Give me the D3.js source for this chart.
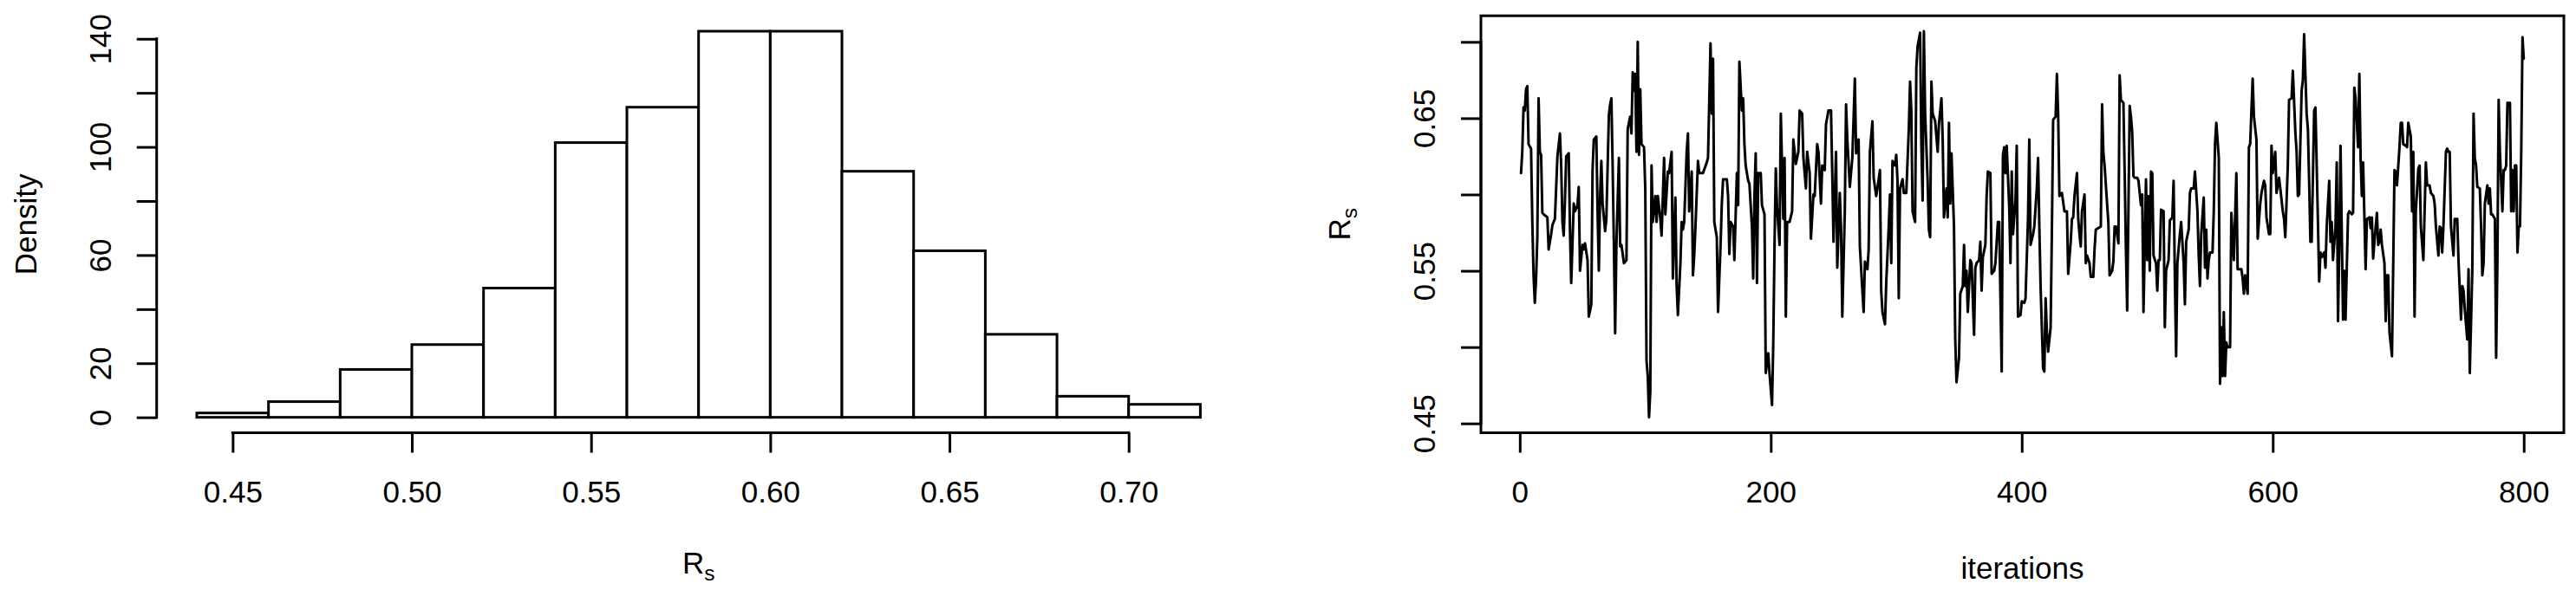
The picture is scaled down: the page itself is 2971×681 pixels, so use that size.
<!DOCTYPE html>
<html><head><meta charset="utf-8">
<script src="https://cdnjs.cloudflare.com/ajax/libs/d3/7.8.5/d3.min.js"></script>
<style>
html,body{margin:0;padding:0;background:#fff;}
svg{display:block;}
text{font-family:"Liberation Sans", Arial, Helvetica, sans-serif; fill:#000;}
</style>
</head><body>
<svg id="c" width="2971" height="681"></svg>
<script>
// ---------------- DATA ----------------
const binEdges = [0.44,0.46,0.48,0.50,0.52,0.54,0.56,0.58,0.60,0.62,0.64,0.66,0.68,0.70,0.72];
const densities = [1.6,5.8,17.7,26.9,47.8,101.6,114.7,142.8,142.8,91.0,61.6,30.7,7.8,4.8];
const histXTicks = [0.45,0.50,0.55,0.60,0.65,0.70];
const histXTickLabels = ["0.45","0.50","0.55","0.60","0.65","0.70"];
const histYTicks = [0,20,40,60,80,100,120,140];
const histYTickLabels = ["0","20","","60","","100","","140"];

const traceIter = [
1,2,3,4,5,6,7,9,10,11,12,13,14,15,16,17,18,19,22,23,25,26,28,30,32,33,34,35,36,37,
39,40,41,43,44,46,47,48,50,51,52,54,55,57,58,59,61,62,63,64,65,66,68,69,71,72,73,74,75,76,
77,79,80,81,83,85,86,88,89,90,91,92,93,94,95,96,97,99,100,101,102,103,104,105,106,108,109,110,112,113,
115,116,118,119,121,122,123,124,125,126,128,129,130,131,133,134,135,137,138,139,140,142,143,146,149,150,152,153,154,155,
157,158,160,161,162,165,166,167,168,170,171,173,174,175,177,178,179,180,182,183,185,186,187,188,189,190,192,193,195,196,
198,199,201,202,203,204,205,207,208,210,211,212,213,215,217,218,220,222,223,225,226,228,229,231,232,234,235,237,238,240,
241,243,244,246,248,249,250,252,253,255,256,257,259,260,261,263,265,267,268,270,271,273,274,275,277,278,279,281,282,284,
285,287,288,289,291,292,294,295,296,297,299,300,301,302,303,305,306,308,310,311,312,313,315,316,317,319,320,321,322,323,
325,326,327,328,329,331,333,334,336,337,338,340,341,342,343,344,346,347,348,350,351,353,354,355,356,357,359,360,362,363,364,
366,367,368,369,371,372,373,375,376,378,379,381,382,384,385,386,387,388,390,391,392,393,395,396,397,399,400,402,403,405,
406,407,409,410,412,413,414,415,417,418,419,420,421,423,424,425,427,428,429,430,432,434,436,437,439,440,441,442,444,445,
446,447,448,450,451,452,454,455,457,458,459,461,463,464,465,466,468,469,470,472,473,474,475,477,478,479,481,482,483,484,
486,487,488,489,490,492,493,495,496,497,499,500,501,502,503,504,505,507,508,509,510,511,513,514,515,517,518,520,521,522,
523,524,526,527,529,530,531,533,534,535,537,538,540,541,542,543,545,546,547,548,549,550,552,553,554,555,557,558,559,560,
561,562,563,564,566,567,568,569,571,572,575,576,577,578,580,581,582,584,585,587,588,590,591,593,594,595,597,598,599,600,
602,603,605,606,608,609,610,612,613,615,616,618,619,620,621,623,624,625,627,628,629,630,631,633,634,636,637,638,639,641,
642,643,645,646,647,648,650,651,652,653,654,656,657,658,660,661,663,664,665,666,668,669,670,671,672,674,675,677,678,679,
680,681,683,684,685,686,687,689,690,691,692,693,695,696,697,698,699,701,702,703,704,706,707,708,710,711,712,713,714,716,
717,718,720,721,722,723,725,726,728,729,730,732,733,734,735,736,738,739,740,741,742,744,745,746,747,748,750,751,752,753,
755,756,757,759,760,761,762,763,765,766,767,768,769,771,772,773,774,775,777,778,779,780,781,783,784,785,786,787,789,790,
791,792,793,794,795,796,797,798,799,800
];
const traceRs = [
0.614,0.628,0.657,0.655,0.669,0.671,0.633,0.630,0.582,0.547,
0.529,0.545,0.572,0.663,0.628,0.626,0.588,0.587,0.585,0.564,
0.574,0.580,0.584,0.625,0.640,0.619,0.582,0.573,0.596,0.625,
0.627,0.577,0.542,0.594,0.589,0.593,0.605,0.550,0.567,0.564,
0.568,0.557,0.520,0.528,0.616,0.636,0.638,0.589,0.550,0.599,
0.622,0.594,0.576,0.584,0.652,0.659,0.663,0.619,0.567,0.509,
0.567,0.624,0.566,0.567,0.555,0.557,0.643,0.651,0.640,0.680,
0.668,0.679,0.628,0.700,0.626,0.669,0.633,0.631,0.604,0.491,
0.481,0.454,0.471,0.619,0.582,0.599,0.582,0.599,0.584,0.573,
0.624,0.587,0.615,0.614,0.628,0.545,0.572,0.598,0.540,0.521,
0.555,0.582,0.577,0.582,0.628,0.640,0.589,0.615,0.547,0.560,
0.579,0.622,0.614,0.614,0.621,0.624,0.699,0.653,0.689,0.582,
0.572,0.523,0.567,0.594,0.610,0.610,0.599,0.561,0.582,0.579,
0.557,0.614,0.593,0.687,0.655,0.663,0.633,0.619,0.609,0.607,
0.579,0.545,0.599,0.627,0.542,0.614,0.614,0.593,0.587,0.483,
0.496,0.483,0.462,0.503,0.567,0.617,0.592,0.567,0.653,0.584,
0.624,0.520,0.582,0.582,0.589,0.636,0.620,0.628,0.655,0.653,
0.624,0.604,0.628,0.614,0.571,0.600,0.599,0.633,0.628,0.594,
0.619,0.616,0.646,0.655,0.655,0.614,0.569,0.628,0.552,0.601,
0.578,0.520,0.589,0.659,0.636,0.605,0.624,0.676,0.627,0.636,
0.566,0.537,0.523,0.556,0.551,0.564,0.628,0.648,0.611,0.599,
0.604,0.616,0.537,0.523,0.515,0.542,0.579,0.600,0.555,0.622,
0.619,0.626,0.609,0.532,0.604,0.610,0.601,0.601,0.643,0.674,
0.655,0.589,0.582,0.683,0.697,0.706,0.633,0.596,0.707,0.653,
0.609,0.577,0.572,0.674,0.653,0.648,0.628,0.646,0.663,0.636,
0.585,0.604,0.585,0.647,0.594,0.627,0.579,0.505,0.477,0.493,
0.535,0.540,0.567,0.540,0.550,0.523,0.557,0.555,0.508,0.552,
0.555,
0.557,0.569,0.537,0.559,0.567,0.599,0.615,0.614,0.548,0.550,
0.555,0.582,0.582,0.484,0.626,0.631,0.614,0.632,0.592,0.555,
0.615,0.574,0.596,0.632,0.520,0.521,0.530,0.529,0.532,0.585,
0.636,0.567,0.574,0.579,0.604,0.624,0.579,0.540,0.486,0.484,
0.532,0.510,0.497,0.513,0.576,0.649,0.651,0.679,0.653,0.599,
0.601,0.589,0.589,0.548,0.569,0.584,0.585,0.599,0.614,0.584,
0.574,0.566,0.589,0.600,0.555,0.560,0.555,0.546,0.546,0.564,
0.577,0.578,0.579,0.659,0.628,0.619,0.594,0.582,0.547,0.550,
0.556,0.579,0.579,0.568,0.678,0.662,0.660,0.614,0.564,0.524,
0.658,0.651,0.641,0.612,0.611,0.611,0.609,0.593,0.600,0.523,
0.610,0.557,0.599,0.550,0.615,0.614,0.560,0.555,0.537,0.557,
0.557,0.590,0.589,0.513,0.550,0.557,0.583,0.585,0.609,0.545,
0.494,0.555,0.574,0.582,0.555,0.528,0.569,0.577,0.601,0.604,
0.604,0.615,0.589,0.560,0.540,0.574,0.598,0.552,0.577,0.545,
0.557,0.562,0.562,0.589,0.633,0.647,0.624,0.476,0.513,0.481,
0.523,0.481,0.503,0.500,0.500,0.588,0.573,0.557,0.614,0.551,
0.551,0.545,0.535,0.547,0.535,0.631,0.633,0.676,0.651,0.636,
0.571,0.594,0.601,0.609,0.606,0.585,0.574,0.574,0.632,0.614,
0.628,0.601,0.611,0.604,0.589,0.584,0.572,0.619,0.662,0.663,
0.681,0.641,0.628,0.599,0.600,0.668,0.675,0.705,0.653,0.643,
0.609,0.569,0.569,0.655,0.657,0.582,0.543,0.562,0.559,0.562,
0.552,0.579,0.609,0.569,0.582,0.557,0.579,0.621,0.517,0.564,
0.632,0.518,0.550,0.518,0.587,0.589,0.587,0.588,0.670,0.663,
0.631,0.679,0.624,0.599,0.621,0.551,0.584,0.585,0.578,0.585,
0.558,0.569,0.588,0.567,0.569,0.577,0.567,0.555,0.517,0.547,
0.547,0.510,0.494,0.555,0.616,0.615,0.606,0.631,0.647,0.647,
0.633,0.632,0.631,0.647,0.638,0.589,0.628,0.520,0.589,0.617,
0.619,0.579,0.557,0.589,0.621,0.606,0.606,0.601,0.599,0.594,
0.579,0.560,0.579,0.578,0.562,0.579,0.628,0.630,0.628,0.628,
0.579,0.560,0.584,0.584,0.584,0.557,0.518,0.540,0.537,0.525,
0.505,0.551,0.483,0.550,0.653,0.624,0.619,0.605,0.604,0.579,
0.547,0.555,0.594,0.606,0.594,0.604,0.587,0.587,0.584,0.493,
0.555,0.662,0.628,0.589,0.616,0.616,0.619,0.660,0.660,0.589,
0.616,0.589,0.619,0.619,0.562,0.579,0.579,0.628,0.703,0.689
];
const traceXTicks = [0,200,400,600,800];
const traceXTickLabels = ["0","200","400","600","800"];
const traceYTicks = [0.45,0.50,0.55,0.60,0.65,0.70];
const traceYTickLabels = ["0.45","","0.55","","0.65",""];

// ---------------- LAYOUT ----------------
const FS = 35, LW = 3, TICK = 23;
const plotTop = 18.2, plotBottom = 499.5;
const leftPlot = {x0: 180.7, x1: 1430.7};
const rightPlot = {x0: 1708, x1: 2957};
const svg = d3.select("#c");

function ext(lo, hi){ const d = (hi - lo) * 0.04; return [lo - d, hi + d]; }

// scales
const xHist = d3.scaleLinear().domain(ext(binEdges[0], binEdges[binEdges.length-1])).range([leftPlot.x0, leftPlot.x1]);
const yHist = d3.scaleLinear().domain(ext(0, d3.max(densities))).range([plotBottom, plotTop]);
const xTrace = d3.scaleLinear().domain(ext(d3.min(traceIter), d3.max(traceIter))).range([rightPlot.x0, rightPlot.x1]);
const yTrace = d3.scaleLinear().domain(ext(d3.min(traceRs), d3.max(traceRs))).range([plotBottom, plotTop]);

// R-style axes
function bottomAxis(scale, ticks, labels, y){
  const g = svg.append("g").attr("transform", `translate(0,${y})`)
    .call(d3.axisBottom(scale).tickValues(ticks).tickSize(TICK).tickSizeOuter(0).tickFormat((d,i)=>labels[i]));
  g.select(".domain").remove();
  g.attr("font-size", FS).attr("font-family", null);
  g.selectAll("line").attr("stroke", "#000").attr("stroke-width", LW);
  g.selectAll("text").attr("y", 80.5).attr("dy", null).attr("fill", "#000");
  g.append("line").attr("x1", scale(ticks[0])).attr("x2", scale(ticks[ticks.length-1]))
    .attr("y1", 0).attr("y2", 0).attr("stroke", "#000").attr("stroke-width", LW).attr("stroke-linecap","square");
}
function leftAxis(scale, ticks, labels, x){
  const g = svg.append("g").attr("transform", `translate(${x},0)`)
    .call(d3.axisLeft(scale).tickValues(ticks).tickSize(TICK).tickSizeOuter(0).tickFormat((d,i)=>labels[i]));
  g.select(".domain").remove();
  g.attr("font-size", FS).attr("font-family", null);
  g.selectAll("line").attr("stroke", "#000").attr("stroke-width", LW);
  g.selectAll("text").attr("x", null).attr("dy", null).attr("fill", "#000")
    .attr("text-anchor", "middle").attr("transform", "translate(-53,0) rotate(-90)");
  g.append("line").attr("y1", scale(ticks[0])).attr("y2", scale(ticks[ticks.length-1]))
    .attr("x1", 0).attr("x2", 0).attr("stroke", "#000").attr("stroke-width", LW).attr("stroke-linecap","square");
}

// ---------------- LEFT: histogram ----------------
svg.append("g").selectAll("rect").data(densities).join("rect")
  .attr("x", (d,i)=>xHist(binEdges[i]))
  .attr("width", (d,i)=>xHist(binEdges[i+1]) - xHist(binEdges[i]))
  .attr("y", d=>yHist(d))
  .attr("height", d=>yHist(0) - yHist(d))
  .attr("fill", "#fff").attr("stroke", "#000").attr("stroke-width", LW);

bottomAxis(xHist, histXTicks, histXTickLabels, plotBottom);
leftAxis(yHist, histYTicks, histYTickLabels, leftPlot.x0);

svg.append("text").attr("transform", `translate(42,${(plotTop+plotBottom)/2}) rotate(-90)`)
  .attr("text-anchor","middle").attr("font-size", FS).text("Density");
const xl = svg.append("text").attr("x", (leftPlot.x0+leftPlot.x1)/2).attr("y", 662)
  .attr("text-anchor","middle").attr("font-size", FS);
xl.append("tspan").text("R");
xl.append("tspan").attr("dy", 8).attr("font-size", FS*0.7).text("s");

// ---------------- RIGHT: trace ----------------
const line = d3.line().x((d,i)=>xTrace(traceIter[i])).y(d=>yTrace(d));
svg.append("path").datum(traceRs).attr("d", line)
  .attr("fill","none").attr("stroke","#000").attr("stroke-width", 3)
  .attr("stroke-linejoin","round").attr("stroke-linecap","round");

svg.append("rect").attr("x", rightPlot.x0).attr("y", plotTop)
  .attr("width", rightPlot.x1 - rightPlot.x0).attr("height", plotBottom - plotTop)
  .attr("fill","none").attr("stroke","#000").attr("stroke-width", LW);

bottomAxis(xTrace, traceXTicks, traceXTickLabels, plotBottom);
leftAxis(yTrace, traceYTicks, traceYTickLabels, rightPlot.x0);

const yl = svg.append("text").attr("transform", `translate(${rightPlot.x0-151},${(plotTop+plotBottom)/2}) rotate(-90)`)
  .attr("text-anchor","middle").attr("font-size", FS);
yl.append("tspan").text("R");
yl.append("tspan").attr("dy", 8).attr("font-size", FS*0.7).text("s");

svg.append("text").attr("x", (rightPlot.x0+rightPlot.x1)/2).attr("y", 668)
  .attr("text-anchor","middle").attr("font-size", FS).text("iterations");
</script>
</body></html>
